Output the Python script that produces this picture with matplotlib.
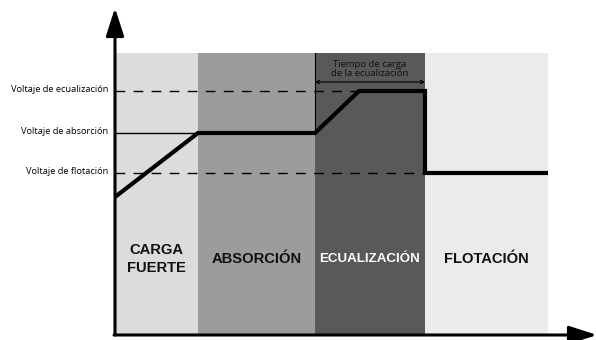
import matplotlib.pyplot as plt

# stage boundaries (time units) and names
stage_edges = [0, 83, 200, 310, 433]
stage_names = ["CARGA\nFUERTE", "ABSORCIÓN", "ECUALIZACIÓN", "FLOTACIÓN"]
stage_colors = ["#dcdcdc", "#9c9c9c", "#595959", "#ebebeb"]
stage_text_colors = ["#111111", "#111111", "white", "#111111"]

# voltage levels
v_labels = ["Voltaje de ecualización", "Voltaje de absorción", "Voltaje de flotación"]
v_levels = [244, 202, 162]

# charging curve
curve_t = [0, 83, 200, 244, 310, 310, 433]
curve_v = [138, 202, 202, 244, 244, 162, 162]

fig = plt.figure(figsize=(5.96, 3.4), dpi=100)
ax = fig.add_axes([115 / 596, 5 / 340, 433 / 596, 282 / 340])
ax.set_xlim(0, 433)
ax.set_ylim(0, 282)
ax.axis("off")

for i, name in enumerate(stage_names):
    x0, x1 = stage_edges[i], stage_edges[i + 1]
    ax.axvspan(x0, x1, color=stage_colors[i], lw=0, zorder=0)
    ax.text((x0 + x1) / 2, 76, name, ha="center", va="center",
            fontsize=10.6 if i != 2 else 9.6, fontweight="bold",
            family="Liberation Sans", color=stage_text_colors[i],
            linespacing=1.3)

# reference lines
ax.plot([0, 244], [v_levels[0]] * 2, color="black", lw=1, ls=(0, (7, 6)), zorder=2)
ax.plot([0, 83], [v_levels[1]] * 2, color="black", lw=1, zorder=2)
ax.plot([0, 310], [v_levels[2]] * 2, color="black", lw=1, ls=(0, (7, 6)), zorder=2)
for lab, v in zip(v_labels, v_levels):
    ax.text(-7, v + 2, lab, ha="right", va="center", fontsize=6.7,
            family="Open Sans", clip_on=False)

# equalization time marker
ax.plot([stage_edges[2]] * 2, [202, 282], color="black", lw=0.8, zorder=2)
ax.annotate("", xy=(stage_edges[2], 253), xytext=(stage_edges[3], 253),
            arrowprops=dict(arrowstyle="<->", color="black", lw=0.8,
                            shrinkA=0, shrinkB=0, mutation_scale=6))
ax.text((stage_edges[2] + stage_edges[3]) / 2, 266,
        "Tiempo de carga\nde la ecualización", ha="center", va="center",
        fontsize=6.8, family="Open Sans", linespacing=1.05, color="#111111")

ax.plot(curve_t, curve_v, color="black", lw=3, solid_joinstyle="miter", zorder=3)

# axes arrows
ax.annotate("", xy=(0, 327), xytext=(0, 0), annotation_clip=False,
            arrowprops=dict(arrowstyle="-|>,head_length=1.7,head_width=0.55",
                            color="black", lw=2.2, shrinkA=0, shrinkB=0))
ax.annotate("", xy=(482, 0), xytext=(-1, 0), annotation_clip=False,
            arrowprops=dict(arrowstyle="-|>,head_length=1.7,head_width=0.55",
                            color="black", lw=2.2, shrinkA=0, shrinkB=0))

fig.savefig("out.png", dpi=100)
